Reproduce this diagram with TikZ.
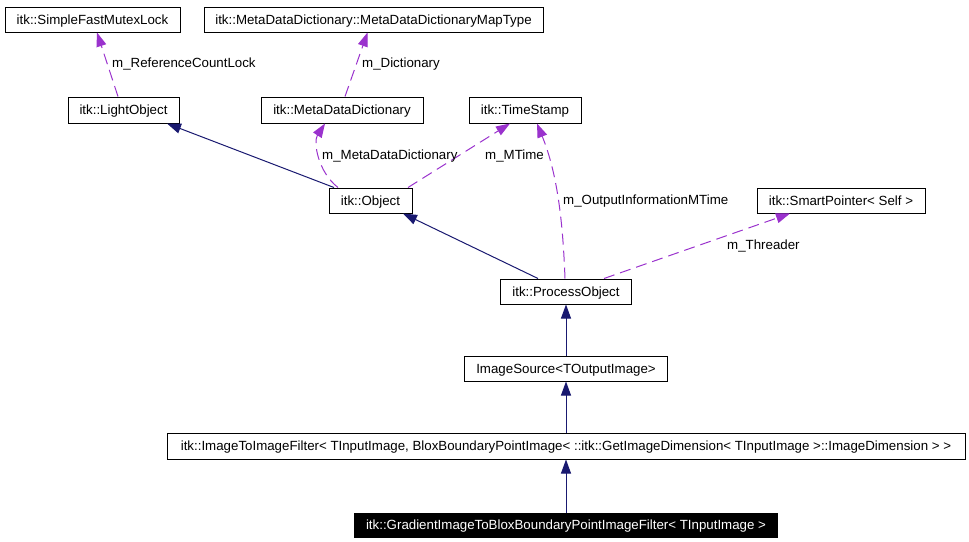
\documentclass[tikz,border=0pt]{standalone}
\usepackage{fontspec}
\setmainfont{Liberation Sans}
\usetikzlibrary{arrows.meta,calc}
\definecolor{inh}{HTML}{191970}
\definecolor{use}{HTML}{9A32CD}
\begin{document}
\begin{tikzpicture}[x=1pt,y=-1pt,
  box/.style={draw=black,line width=1pt,minimum height=25pt,inner sep=0pt,text height=9.6pt,text depth=0pt,font=\fontsize{13.3}{16}\selectfont,fill=white},
  hl/.style={box,fill=black,text=white},
  inharr/.style={draw=inh,line width=1pt,-{Triangle[length=14pt,width=10pt]}},
  usearr/.style={draw=use,line width=1pt,dash pattern=on 11pt off 6pt,-{Triangle[length=14pt,width=10pt]}},
  lbl/.style={font=\fontsize{13.3}{16}\selectfont,inner sep=0pt,text height=9.6pt,text depth=0pt,anchor=west}]
\useasboundingbox (0,0) rectangle (969,541);
\node[box,minimum width=175pt] (sfml) at (92.5,19.5) {itk::SimpleFastMutexLock};
\node[box,minimum width=339pt] (mapt) at (373.5,19.5) {itk::MetaDataDictionary::MetaDataDictionaryMapType};
\node[box,minimum width=111pt,minimum height=26pt] (lo) at (123.5,110) {itk::LightObject};
\node[box,minimum width=162pt,minimum height=26pt] (mdd) at (342,110) {itk::MetaDataDictionary};
\node[box,minimum width=112pt,minimum height=26pt] (ts) at (525,110) {itk::TimeStamp};
\node[box,minimum width=83pt] (obj) at (370.5,200.5) {itk::Object};
\node[box,minimum width=168pt] (sp) at (841,200.5) {itk::SmartPointer< Self >};
\node[box,minimum width=131pt] (po) at (566,291.5) {itk::ProcessObject};
\node[box,minimum width=203pt] (is) at (566,368.5) {ImageSource<TOutputImage>};
\node[box,minimum width=798pt,minimum height=26pt] (itif) at (566,446) {itk::ImageToImageFilter< TInputImage, BloxBoundaryPointImage< ::itk::GetImageDimension< TInputImage >::ImageDimension > >};
\node[hl,minimum width=423pt,minimum height=24pt] (grad) at (566,525) {itk::GradientImageToBloxBoundaryPointImageFilter< TInputImage >};

\draw[usearr] ($(lo.north)+(-5.5,0)$) -- ($(sfml.south)+(4.5,0)$);
\draw[usearr] ($(mdd.north)+(3,0)$) -- ($(mapt.south)+(-6,0)$);
\draw[inharr] ($(obj.north)+(-36.5,0)$) -- ($(lo.south)+(43.5,0)$);
\draw[usearr] ($(obj.north)+(-32.5,0)$) .. controls (318,172) and (313,142) .. ($(mdd.south)+(-17,0)$);
\draw[usearr] ($(obj.north)+(37.5,0)$) -- ($(ts.south)+(-15,0)$);
\draw[usearr] ($(po.north)+(-1,0)$) .. controls (563,225) and (558,175) .. ($(ts.south)+(12,0)$);
\draw[inharr] ($(po.north)+(-28,0)$) -- ($(obj.south)+(32.5,0)$);
\draw[usearr] ($(po.north)+(38,0)$) -- ($(sp.south)+(-51,0)$);
\draw[inharr] (is.north) -- (po.south);
\draw[inharr] (itif.north) -- (is.south);
\draw[inharr] (grad.north) -- (itif.south);

\node[lbl] (l1) at (112,63) {m\_ReferenceCountLock};
\node[lbl] (l2) at (362,63) {m\_Dictionary};
\node[lbl] (l3) at (322,155) {m\_MetaDataDictionary};
\node[lbl] (l4) at (485,155) {m\_MTime};
\node[lbl] (l5) at (563,200) {m\_OutputInformationMTime};
\node[lbl] (l6) at (727,245) {m\_Threader};
\end{tikzpicture}
\end{document}
